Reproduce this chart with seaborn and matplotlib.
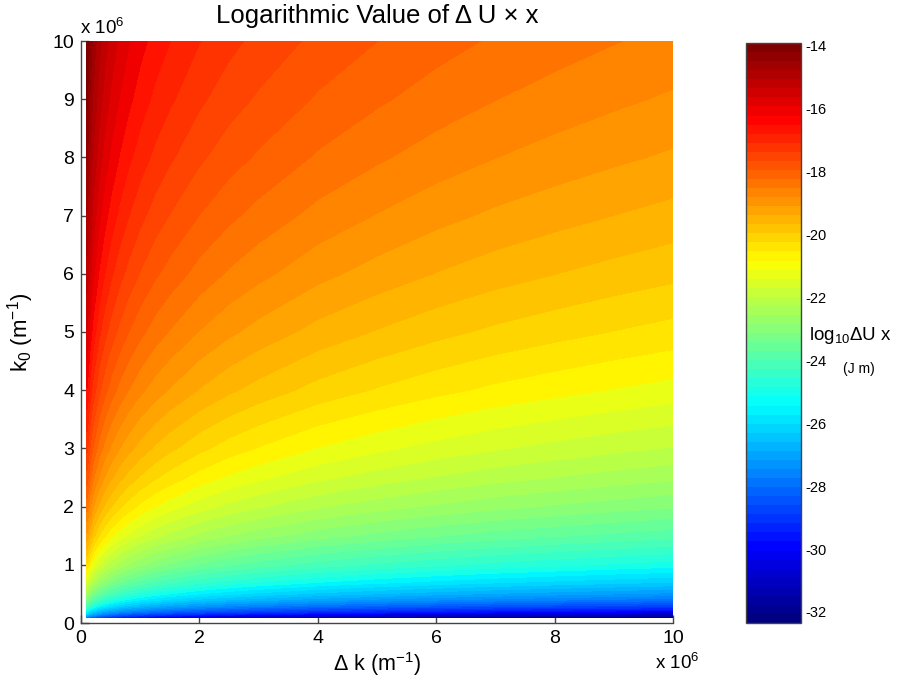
import numpy as np
import matplotlib
matplotlib.use("Agg")
import matplotlib.pyplot as plt
from matplotlib.colors import LinearSegmentedColormap, Normalize
import matplotlib.cm as cm
import seaborn as sns

# ---- data (axes in units of 1e6 m^-1) ----
dk_vals = [0.1, 0.15, 0.2, 0.3, 0.4, 0.5, 0.65, 0.8, 1, 1.25, 1.5, 2, 2.5, 3, 4, 5, 6, 7, 8, 9, 10]
k0_vals = [0.1, 0.15, 0.2, 0.3, 0.4, 0.5, 0.7, 1, 1.5, 2, 2.5, 3, 4, 5, 6, 7, 8, 9, 10]
# log10(dU x); rows follow k0_vals, columns follow dk_vals
log_dux = [
    [-27.65, -28.06, -28.36, -28.77, -29.06, -29.29, -29.56, -29.77, -30.00, -30.23, -30.41, -30.71, -30.94, -31.12, -31.42, -31.64, -31.83, -31.99, -32.12, -32.24, -32.35],
    [-26.37, -26.78, -27.08, -27.49, -27.78, -28.01, -28.28, -28.49, -28.72, -28.95, -29.13, -29.43, -29.66, -29.84, -30.14, -30.36, -30.55, -30.71, -30.84, -30.96, -31.07],
    [-25.44, -25.85, -26.15, -26.56, -26.85, -27.08, -27.35, -27.56, -27.79, -28.02, -28.20, -28.50, -28.73, -28.91, -29.21, -29.43, -29.62, -29.78, -29.91, -30.03, -30.14],
    [-24.16, -24.57, -24.87, -25.28, -25.57, -25.80, -26.07, -26.28, -26.51, -26.74, -26.92, -27.22, -27.45, -27.63, -27.93, -28.15, -28.34, -28.50, -28.63, -28.75, -28.86],
    [-23.25, -23.66, -23.96, -24.37, -24.66, -24.89, -25.16, -25.37, -25.60, -25.83, -26.01, -26.31, -26.54, -26.72, -27.02, -27.24, -27.43, -27.59, -27.72, -27.84, -27.95],
    [-22.56, -22.97, -23.27, -23.68, -23.97, -24.20, -24.47, -24.68, -24.91, -25.14, -25.32, -25.62, -25.85, -26.03, -26.33, -26.55, -26.74, -26.90, -27.03, -27.15, -27.26],
    [-21.53, -21.94, -22.24, -22.65, -22.94, -23.17, -23.44, -23.65, -23.88, -24.11, -24.29, -24.59, -24.82, -25.00, -25.30, -25.52, -25.71, -25.87, -26.00, -26.12, -26.23],
    [-20.45, -20.86, -21.16, -21.57, -21.86, -22.09, -22.36, -22.57, -22.80, -23.03, -23.21, -23.51, -23.74, -23.92, -24.22, -24.44, -24.63, -24.79, -24.92, -25.04, -25.15],
    [-19.25, -19.66, -19.96, -20.37, -20.66, -20.89, -21.16, -21.37, -21.60, -21.83, -22.01, -22.31, -22.54, -22.72, -23.02, -23.24, -23.43, -23.59, -23.72, -23.84, -23.95],
    [-18.41, -18.82, -19.12, -19.53, -19.82, -20.05, -20.32, -20.53, -20.76, -20.99, -21.17, -21.47, -21.70, -21.88, -22.18, -22.40, -22.59, -22.75, -22.88, -23.00, -23.11],
    [-17.76, -18.17, -18.47, -18.88, -19.17, -19.40, -19.67, -19.88, -20.11, -20.34, -20.52, -20.82, -21.05, -21.23, -21.53, -21.75, -21.94, -22.10, -22.23, -22.35, -22.46],
    [-17.24, -17.65, -17.95, -18.36, -18.65, -18.88, -19.15, -19.36, -19.59, -19.82, -20.00, -20.30, -20.53, -20.71, -21.01, -21.23, -21.42, -21.58, -21.71, -21.83, -21.94],
    [-16.42, -16.83, -17.13, -17.54, -17.83, -18.06, -18.33, -18.54, -18.77, -19.00, -19.18, -19.48, -19.71, -19.89, -20.19, -20.41, -20.60, -20.76, -20.89, -21.01, -21.12],
    [-15.80, -16.21, -16.51, -16.92, -17.21, -17.44, -17.71, -17.92, -18.15, -18.38, -18.56, -18.86, -19.09, -19.27, -19.57, -19.79, -19.98, -20.14, -20.27, -20.39, -20.50],
    [-15.29, -15.70, -16.00, -16.41, -16.70, -16.93, -17.20, -17.41, -17.64, -17.87, -18.05, -18.35, -18.58, -18.76, -19.06, -19.28, -19.47, -19.63, -19.76, -19.88, -19.99],
    [-14.87, -15.28, -15.58, -15.99, -16.28, -16.51, -16.78, -16.99, -17.22, -17.45, -17.63, -17.93, -18.16, -18.34, -18.64, -18.86, -19.05, -19.21, -19.34, -19.46, -19.57],
    [-14.50, -14.91, -15.21, -15.62, -15.91, -16.14, -16.41, -16.62, -16.85, -17.08, -17.26, -17.56, -17.79, -17.97, -18.27, -18.49, -18.68, -18.84, -18.97, -19.09, -19.20],
    [-14.19, -14.60, -14.90, -15.31, -15.60, -15.83, -16.10, -16.31, -16.54, -16.77, -16.95, -17.25, -17.48, -17.66, -17.96, -18.18, -18.37, -18.53, -18.66, -18.78, -18.89],
    [-13.93, -14.34, -14.64, -15.05, -15.34, -15.57, -15.84, -16.05, -16.28, -16.51, -16.69, -16.99, -17.22, -17.40, -17.70, -17.92, -18.11, -18.27, -18.40, -18.52, -18.63],
]
x_ticks = [0, 2, 4, 6, 8, 10]
y_ticks = [0, 1, 2, 3, 4, 5, 6, 7, 8, 9, 10]
cbar_ticks = [-32, -30, -28, -26, -24, -22, -20, -18, -16, -14]

# ---- style ----
sns.set_style("ticks")
plt.rcParams["font.family"] = ["Liberation Sans", "DejaVu Sans"]
plt.rcParams["mathtext.fontset"] = "custom"
plt.rcParams["mathtext.rm"] = "Liberation Sans"
plt.rcParams["mathtext.it"] = "Liberation Sans:italic"
plt.rcParams["mathtext.bf"] = "Liberation Sans:bold"
plt.rcParams["axes.unicode_minus"] = False
plt.rcParams["text.color"] = "black"
plt.rcParams["axes.labelcolor"] = "black"
plt.rcParams["xtick.labelcolor"] = "black"
plt.rcParams["ytick.labelcolor"] = "black"

# MATLAB-style jet with 64 entries
jet_data = {
    "red":   [(0.0, 0.0, 0.0), (0.375, 0.0, 0.0), (0.625, 1.0, 1.0), (0.875, 1.0, 1.0), (1.0, 0.5, 0.5)],
    "green": [(0.0, 0.0, 0.0), (0.125, 0.0, 0.0), (0.375, 1.0, 1.0), (0.625, 1.0, 1.0), (0.875, 0.0, 0.0), (1.0, 0.0, 0.0)],
    "blue":  [(0.0, 0.5, 0.5), (0.125, 1.0, 1.0), (0.375, 1.0, 1.0), (0.625, 0.0, 0.0), (1.0, 0.0, 0.0)],
}
jet64 = LinearSegmentedColormap("mjet", jet_data, N=64)

Z = np.array(log_dux)
zmin, zmax = Z.min(), Z.max()
norm = Normalize(vmin=zmin, vmax=zmax)
levels = np.linspace(zmin, zmax, 61)

W, H = 897, 684
fig = plt.figure(figsize=(W / 100, H / 100), dpi=100)
ax = fig.add_axes([81 / W, 1 - 623 / H, 592 / W, 582 / H])

cs = ax.contourf(dk_vals, k0_vals, Z, levels=levels, cmap=jet64, norm=norm)
cs.set_edgecolor("face")
cs.set_linewidth(0.4)

ax.set_xlim(0, 10)
ax.set_ylim(0, 10)
ax.set_xticks(x_ticks)
ax.set_yticks(y_ticks)
ax.set_xticklabels([str(t) for t in x_ticks])
ax.set_yticklabels([str(t) for t in y_ticks])
sns.despine(ax=ax)
for s in ["left", "bottom"]:
    ax.spines[s].set_color("#444444")
    ax.spines[s].set_linewidth(1.0)
ax.tick_params(direction="in", length=6, width=1.0, color="#444444",
               labelsize=14, labelcolor="black", pad=5)

ax.set_title("Logarithmic Value of Δ U × x", fontsize=18.5, pad=13, color="black")
ax.set_xlabel("Δ k (m$^{-1}$)", fontsize=15.5, labelpad=2, color="black")
ax.set_ylabel("k$_0$ (m$^{-1}$)", fontsize=16, labelpad=12, color="black")

fig.text(80 / W, 1 - 34 / H, "x 10$^{6}$", fontsize=13.5, ha="left", va="baseline", color="black")
fig.text(655 / W, 1 - 669 / H, "x 10$^{6}$", fontsize=13.5, ha="left", va="baseline", color="black")

# colorbar
cax = fig.add_axes([746 / W, 1 - 623 / H, 55 / W, 580 / H])
sm = cm.ScalarMappable(norm=norm, cmap=jet64)
cb = fig.colorbar(sm, cax=cax)
cb.set_ticks(cbar_ticks)
cb.set_ticklabels([str(t) for t in cbar_ticks])
cb.outline.set_edgecolor("#444444")
cb.outline.set_linewidth(1.0)
cax.tick_params(direction="in", left=True, right=True, labelleft=False,
                labelright=True, length=5, width=1.0, color="#444444",
                labelsize=10.5, labelcolor="black", pad=3)

fig.text(809 / W, 1 - 340 / H, "log$_{10}$ΔU x", fontsize=13.5, ha="left", va="baseline", color="black")
fig.text(843 / W, 1 - 373 / H, "(J m)", fontsize=10, ha="left", va="baseline", color="black")

fig.savefig("out.png", dpi=100)
